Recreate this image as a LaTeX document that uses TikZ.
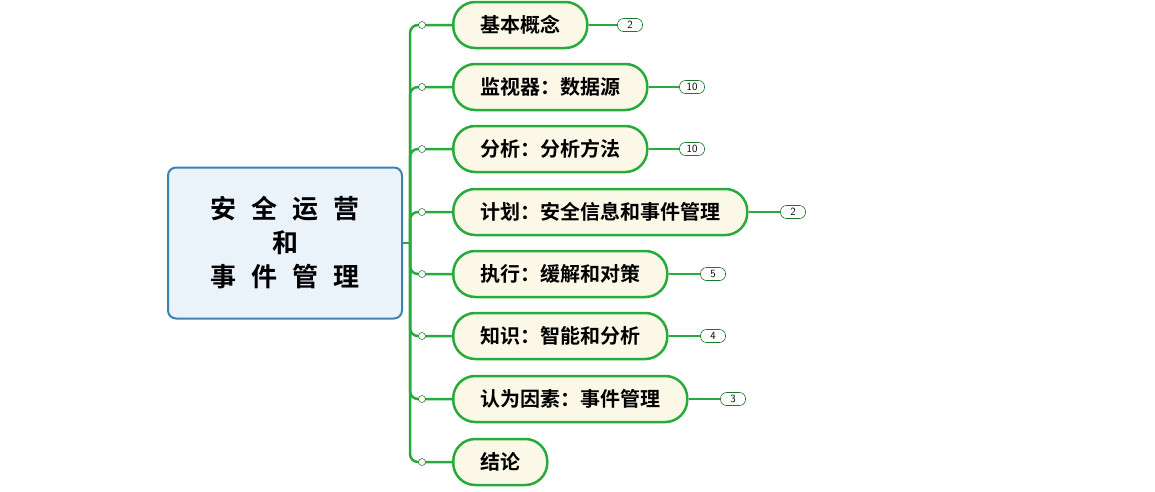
\documentclass[tikz,border=0pt]{standalone}
\usepackage{fontspec}
\newfontfamily\cjk{Noto Sans CJK SC}[BoldFont={Noto Sans CJK SC Bold}]
\usetikzlibrary{positioning}
\definecolor{branchgreen}{RGB}{40,170,60}
\definecolor{topicfill}{RGB}{252,248,232}
\definecolor{rootfill}{RGB}{234,243,250}
\definecolor{rootline}{RGB}{60,130,180}
\newcommand\gap{\hspace{15pt}}
\tikzset{
  root/.style={draw=rootline,line width=2pt,fill=rootfill,rounded corners=8pt,
    minimum width=234pt,minimum height=151pt,align=center,
    font=\cjk\bfseries\fontsize{26}{34}\selectfont},
  topic/.style={draw=branchgreen,line width=2.5pt,fill=topicfill,rounded corners=22pt,
    minimum height=46pt,inner xsep=27pt,anchor=west,font=\cjk\bfseries\fontsize{20}{22}\selectfont},
  badge/.style={draw=branchgreen!70!black,line width=.6pt,fill=white,rounded corners=6pt,
    minimum width=25pt,minimum height=13pt,inner sep=0pt,font=\sffamily\fontsize{11}{11}\selectfont},
  knob/.style={circle,draw=branchgreen!60!black,fill=white,line width=.5pt,inner sep=0pt,minimum size=7pt},
  link/.style={draw=branchgreen,line width=2.5pt}
}
\begin{document}
\begin{tikzpicture}[x=1pt,y=-1pt]
  \useasboundingbox (0,0) rectangle (1155,491);
  \node[root] (root) at (285,243) {安\gap 全\gap 运\gap 营\\和\\事\gap 件\gap 管\gap 理};
  \coordinate (trunk) at (410,243);
  \draw[link] (root.east) -- (trunk);
  \foreach \name/\y/\txt/\num/\bx in {
      t1/25/基本概念/2/630,
      t2/87/监视器：数据源/10/692,
      t3/149/分析：分析方法/10/692,
      t4/212/计划：安全信息和事件管理/2/793,
      t5/274/执行：缓解和对策/5/713,
      t6/336/知识：智能和分析/4/713,
      t7/399/认为因素：事件管理/3/733,
      t8/462/结论//0} {
    \node[topic] (\name) at (452,\y) {\txt};
    \draw[link,rounded corners=8pt] (trunk) -- (410,\y) -- (\name.west);
    \node[knob] (\name k) at (422,\y) {};
    \ifx\num\empty\else
      \node[badge] (\name b) at (\bx,\y) {\num};
      \draw[link] (\name.east) -- (\name b.west);
    \fi
  }
\end{tikzpicture}
\end{document}
